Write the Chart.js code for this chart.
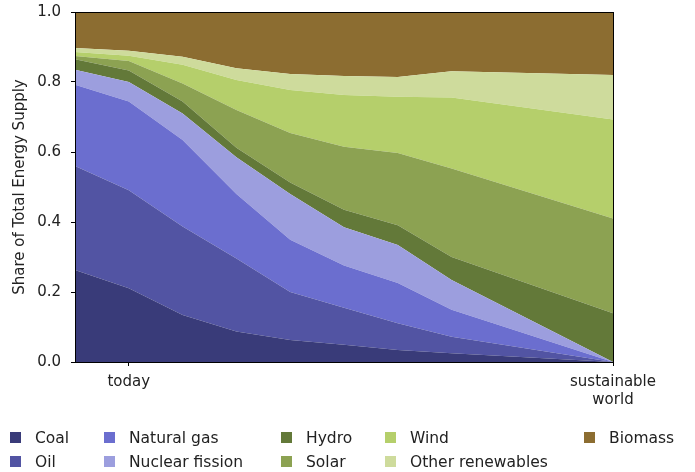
<!DOCTYPE html>
<html>
<head>
<meta charset="utf-8">
<script src="https://cdn.jsdelivr.net/npm/chart.js@4/dist/chart.umd.min.js"></script>
<style>
  body { margin: 0; background: #fff; font-family: "DejaVu Sans", sans-serif; }
  #wrap { position: relative; width: 695px; height: 472px; }
  #legend { position: absolute; left: 0; top: 0; width: 695px; height: 472px; pointer-events: none; }
  .item { position: absolute; font-size: 15.5px; color: #222; line-height: 18px; white-space: nowrap; }
  .box { position: absolute; width: 11px; height: 11px; }
</style>
</head>
<body>
<div id="wrap">
  <canvas id="energyChart" width="695" height="472"></canvas>
  <div id="legend"></div>
</div>
<script>
// x positions of the scenario steps (1 = today, 10 = sustainable world)
const steps = [0, 1, 2, 3, 4, 5, 6, 7, 10];
const tickLabels = { 1: 'today', 10: ['sustainable', 'world'] };

// share of total energy supply per source
const coal    = [0.263, 0.211, 0.134, 0.087, 0.063, 0.049, 0.034, 0.025, 0];
const oil     = [0.297, 0.280, 0.253, 0.209, 0.137, 0.106, 0.077, 0.047, 0];
const gas     = [0.232, 0.253, 0.247, 0.184, 0.149, 0.121, 0.115, 0.077, 0];
const nuclear = [0.043, 0.056, 0.076, 0.105, 0.131, 0.109, 0.108, 0.085, 0];
const hydro   = [0.030, 0.033, 0.034, 0.027, 0.033, 0.050, 0.057, 0.066, 0.139];
const solar   = [0.009, 0.027, 0.052, 0.108, 0.141, 0.180, 0.206, 0.253, 0.271];
const wind    = [0.012, 0.015, 0.053, 0.086, 0.123, 0.148, 0.161, 0.203, 0.283];
const other   = [0.011, 0.014, 0.023, 0.033, 0.046, 0.054, 0.056, 0.075, 0.127];
const biomass = [0.103, 0.111, 0.128, 0.161, 0.177, 0.183, 0.186, 0.169, 0.180];

const names  = ['Coal', 'Oil', 'Natural gas', 'Nuclear fission', 'Hydro', 'Solar', 'Wind', 'Other renewables', 'Biomass'];
const series = [coal, oil, gas, nuclear, hydro, solar, wind, other, biomass];
const colors = ['#393b79', '#5254a3', '#6b6ecf', '#9c9ede', '#637939', '#8ca252', '#b5cf6b', '#cedb9c', '#8c6d31'];

const datasets = series.map((vals, i) => ({
    label: names[i],
    data: vals.map((v, j) => ({ x: steps[j], y: v })),
    backgroundColor: colors[i],
    borderColor: colors[i],
    borderWidth: 0,
    pointRadius: 0,
    tension: 0,
    fill: i === 0 ? 'origin' : '-1'
}));

// box around the plot (top and right spines)
const frame = {
    id: 'frame',
    afterDatasetsDraw(chart) {
        const a = chart.chartArea, c = chart.ctx;
        c.save();
        c.strokeStyle = '#000';
        c.lineWidth = 1;
        c.strokeRect(a.left + 0.5, a.top + 0.5, a.right - a.left, a.bottom - a.top);
        c.restore();
    }
};

Chart.defaults.font.family = '"DejaVu Sans", sans-serif';
Chart.defaults.font.size = 15;
Chart.defaults.color = '#222';

const ctx = document.getElementById('energyChart').getContext('2d');
new Chart(ctx, {
    type: 'line',
    data: { datasets: datasets },
    options: {
        responsive: false,
        animation: false,
        layout: { padding: { top: 12, right: 82, left: 0, bottom: 0 } },
        plugins: { legend: { display: false }, tooltip: { enabled: false } },
        scales: {
            x: {
                type: 'linear',
                min: 0,
                max: 10,
                afterFit: s => { s.height = 110; s.paddingLeft = 0; s.paddingRight = 0; },
                afterBuildTicks: s => { s.ticks = [{ value: 1 }, { value: 10 }]; },
                ticks: {
                    autoSkip: false,
                    maxRotation: 0,
                    padding: 7,
                    color: '#222',
                    font: { lineHeight: 1.2 },
                    callback: v => tickLabels[v]
                },
                grid: { drawOnChartArea: false, drawTicks: true, tickLength: 4, color: '#000' },
                border: { display: true, color: '#000' }
            },
            y: {
                stacked: true,
                min: 0,
                max: 1,
                afterFit: s => { s.width = 75; s.paddingTop = 0; s.paddingBottom = 0; },
                ticks: {
                    stepSize: 0.2,
                    padding: 10,
                    color: '#222',
                    callback: v => v.toFixed(1)
                },
                grid: { drawOnChartArea: false, drawTicks: true, tickLength: 4, color: '#000' },
                border: { display: true, color: '#000' },
                title: { display: true, text: 'Share of Total Energy Supply', color: '#222', font: { size: 15 }, padding: { top: 11, bottom: 0 } }
            }
        }
    },
    plugins: [frame]
});

// legend below the plot, filled column by column
const legend = document.getElementById('legend');
const colLeft = [10, 104, 281, 385, 584];
const rowTop = [429, 453];
names.forEach((name, i) => {
    const col = Math.floor(i / 2), row = i % 2;
    const box = document.createElement('div');
    box.className = 'box';
    box.style.left = colLeft[col] + 'px';
    box.style.top = (rowTop[row] + 3) + 'px';
    box.style.background = colors[i];
    legend.appendChild(box);
    const txt = document.createElement('div');
    txt.className = 'item';
    txt.style.left = (colLeft[col] + 25) + 'px';
    txt.style.top = rowTop[row] + 'px';
    txt.textContent = name;
    legend.appendChild(txt);
});
</script>
</body>
</html>
